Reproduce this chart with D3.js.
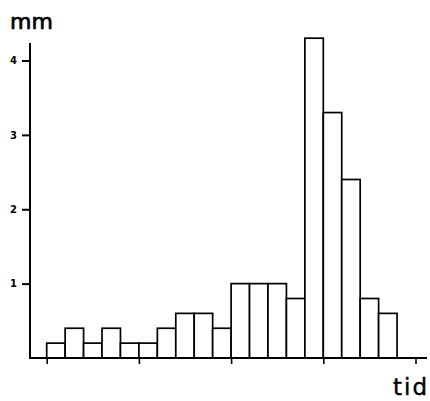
<!DOCTYPE html>
<html><head><meta charset="utf-8">
<script src="https://cdn.jsdelivr.net/npm/d3@7"></script>
<style>html,body{margin:0;padding:0;background:#fff;}svg{display:block;}</style>
</head><body>
<svg id="c" width="430" height="401"></svg>
<script>
const bins = d3.range(19);
const values = [0.2,0.4,0.2,0.4,0.2,0.2,0.4,0.6,0.6,0.4,1.0,1.0,1.0,0.8,4.3,3.3,2.4,0.8,0.6];
const yTicks = [1,2,3,4];
const xTicks = [0,5,10,15,20];
const yLabel = "mm", xLabel = "tid";

const svg = d3.select("#c");
const x = d3.scaleLinear().domain([0,20]).range([46.7,415.5]);
const y = d3.scaleLinear().domain([0,4]).range([358,60.5]);
const axisX0 = 30, axisXEnd = 427, axisYTop = 43;

svg.append("g").selectAll("rect").data(bins).join("rect")
  .attr("x", i => x(i)).attr("width", x(1)-x(0))
  .attr("y", i => y(values[i])).attr("height", i => y(0)-y(values[i]))
  .attr("fill","#fff").attr("stroke","#000").attr("stroke-width",1.7);

// y axis
const ya = svg.append("g").attr("transform",`translate(${axisX0},0)`)
  .call(d3.axisLeft(y).tickValues(yTicks).tickSize(8).tickPadding(5).tickFormat(d3.format("d")));
ya.select(".domain").remove();
ya.selectAll(".tick line").attr("stroke","#000").attr("stroke-width",2);
ya.selectAll(".tick text").attr("font-family","DejaVu Sans").attr("font-size",10).attr("font-weight","bold").attr("fill","#000");
svg.append("line").attr("x1",axisX0).attr("x2",axisX0).attr("y1",axisYTop).attr("y2",y(0)+1)
  .attr("stroke","#000").attr("stroke-width",2);

// x axis
const xa = svg.append("g").attr("transform",`translate(0,${y(0)})`)
  .call(d3.axisBottom(x).tickValues(xTicks).tickSize(6).tickFormat(""));
xa.select(".domain").remove();
xa.selectAll(".tick line").attr("stroke","#000").attr("stroke-width",1.6);
svg.append("line").attr("x1",axisX0).attr("x2",axisXEnd).attr("y1",y(0)).attr("y2",y(0))
  .attr("stroke","#000").attr("stroke-width",2);

svg.append("text").attr("x",10).attr("y",29).text(yLabel)
  .attr("font-family","DejaVu Sans").attr("font-size",22).attr("fill","#000")
  .attr("stroke","#000").attr("stroke-width",0.7);
svg.append("text").attr("x",393).attr("y",395).text(xLabel)
  .attr("font-family","DejaVu Sans").attr("font-size",23).attr("letter-spacing",2).attr("fill","#000")
  .attr("stroke","#000").attr("stroke-width",0.4);
</script>
</body></html>
